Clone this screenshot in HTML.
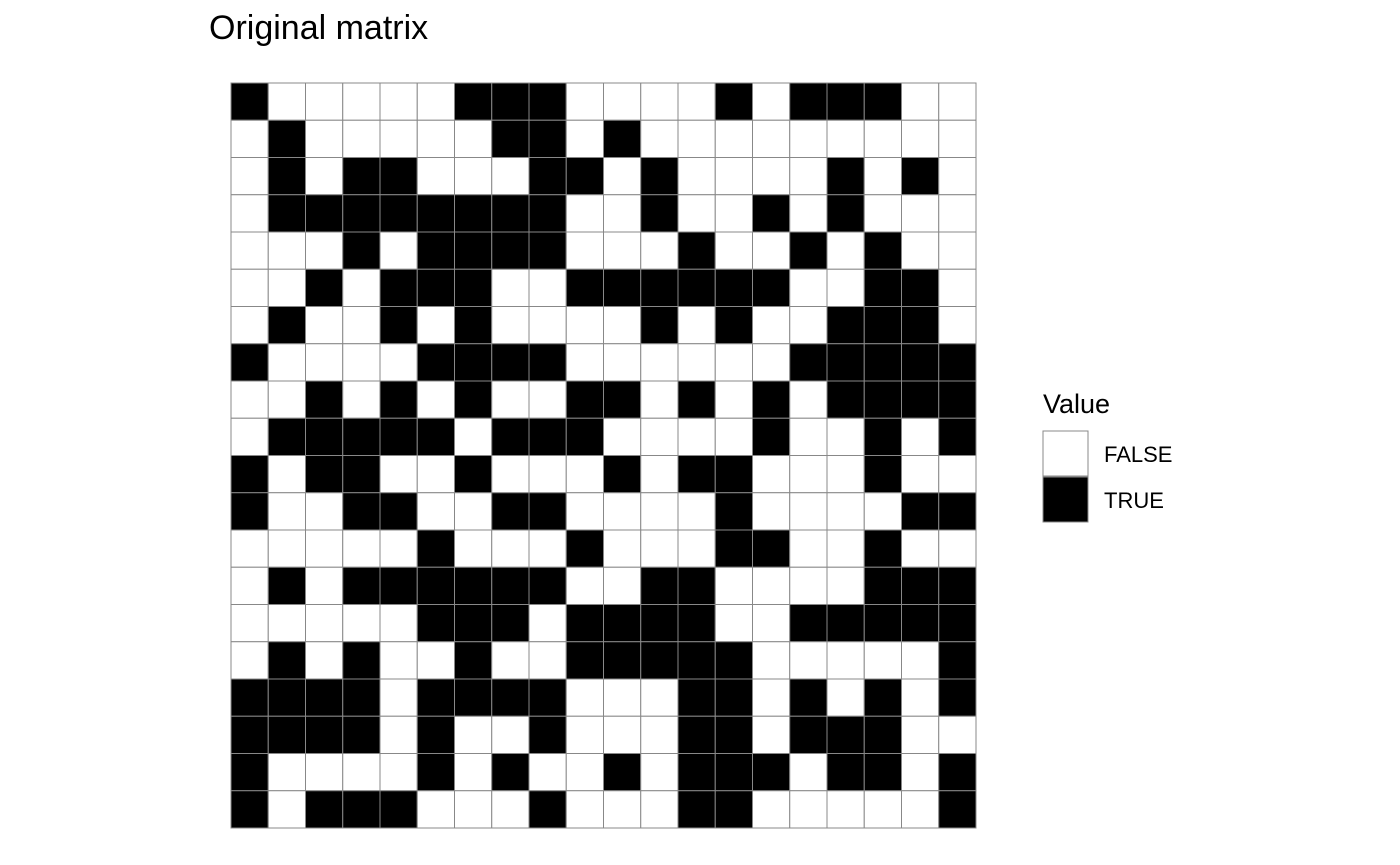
<!DOCTYPE html>
<html><head><meta charset="utf-8"><style>
html,body{margin:0;padding:0;background:#fff;}
svg{display:block;font-family:"Liberation Sans",sans-serif;}
</style></head><body>
<svg id="chart" width="1400" height="865">
<text x="209" y="39" font-size="34" fill="#000">Original matrix</text>
<g id="cells"></g>
<g>
<text x="1043" y="413" font-size="27">Value</text>
<rect x="1043" y="431" width="45" height="45" fill="#fff" stroke="#888" stroke-width="1"/>
<rect x="1043" y="477" width="45" height="45" fill="#000" stroke="#888" stroke-width="1"/>
<text x="1104" y="462" font-size="22">FALSE</text>
<text x="1104" y="508" font-size="22">TRUE</text>
</g>
</svg>
<script>
const rows = [
"10000011100001011100",
"01000001101000000000",
"01011000110100001010",
"01111111100100101000",
"00010111100010010100",
"00101110011111100110",
"01001010000101001110",
"10000111100000011111",
"00101010011010101111",
"01111101110000100101",
"10110010001011000100",
"10011001100001000011",
"00000100010001100100",
"01011111100110000111",
"00000111011110011111",
"01010010011111000001",
"11110111100011010101",
"11110100100011011100",
"10000101001011101101",
"10111000100011000001"
];
const nRows = rows.length, nCols = 20;
const x0 = 231, x1 = 976, y0 = 83, y1 = 828;
function xScale(c){ return x0 + (x1 - x0) * c / nCols; }
function yScale(r){ return y0 + (y1 - y0) * r / nRows; }
const g = document.getElementById('cells');
const NS = 'http://www.w3.org/2000/svg';
for (let r = 0; r < nRows; r++) {
  for (let c = 0; c < nCols; c++) {
    const v = rows[r][c] === '1';
    const el = document.createElementNS(NS, 'rect');
    el.setAttribute('x', xScale(c));
    el.setAttribute('y', yScale(r));
    el.setAttribute('width', xScale(c+1) - xScale(c));
    el.setAttribute('height', yScale(r+1) - yScale(r));
    el.setAttribute('fill', v ? '#000' : '#fff');
    el.setAttribute('stroke', '#888');
    el.setAttribute('stroke-width', '1');
    
    
    g.appendChild(el);
  }
}
</script>
</body></html>
